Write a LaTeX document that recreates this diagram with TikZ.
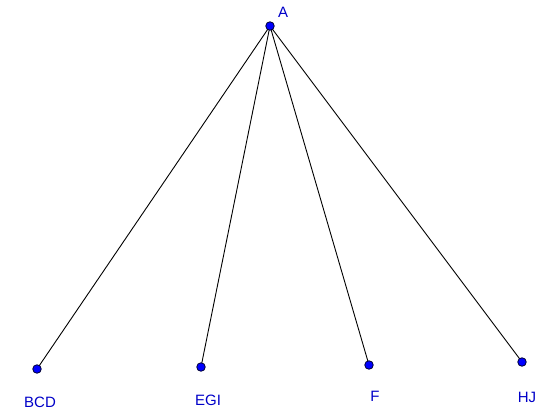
\documentclass[tikz,border=0pt]{standalone}
\usepackage{fontspec}
\setmainfont{Liberation Sans}
\definecolor{ptblue}{RGB}{0,0,255}
\definecolor{lblblue}{RGB}{0,0,200}
\tikzset{
  pt/.style={circle,fill=ptblue,draw=black!80!blue,line width=0.8pt,inner sep=0pt,minimum size=8.5pt},
  lbl/.style={text=lblblue,font=\fontsize{15}{15}\selectfont,inner sep=0pt},
  edge/.style={draw=black,line width=0.9pt}
}
\begin{document}
\begin{tikzpicture}[x=1pt,y=-1pt]
\useasboundingbox (0,0) rectangle (536,412);
\coordinate (cA) at (270,26);
\coordinate (cB) at (37,369);
\coordinate (cE) at (201,367);
\coordinate (cF) at (369,365);
\coordinate (cH) at (522,362);
\draw[edge] (cA) -- (cB);
\draw[edge] (cA) -- (cE);
\draw[edge] (cA) -- (cF);
\draw[edge] (cA) -- (cH);
\node[pt] (A) at (cA) {};
\node[pt] (B) at (cB) {};
\node[pt] (E) at (cE) {};
\node[pt] (F) at (cF) {};
\node[pt] (H) at (cH) {};
\node[lbl] (lA) at (283,12) {A};
\node[lbl] (lB) at (40,402) {BCD};
\node[lbl] (lE) at (208,400) {EGI};
\node[lbl] (lF) at (375,396) {F};
\node[lbl] (lH) at (527,397) {HJ};
\end{tikzpicture}
\end{document}
